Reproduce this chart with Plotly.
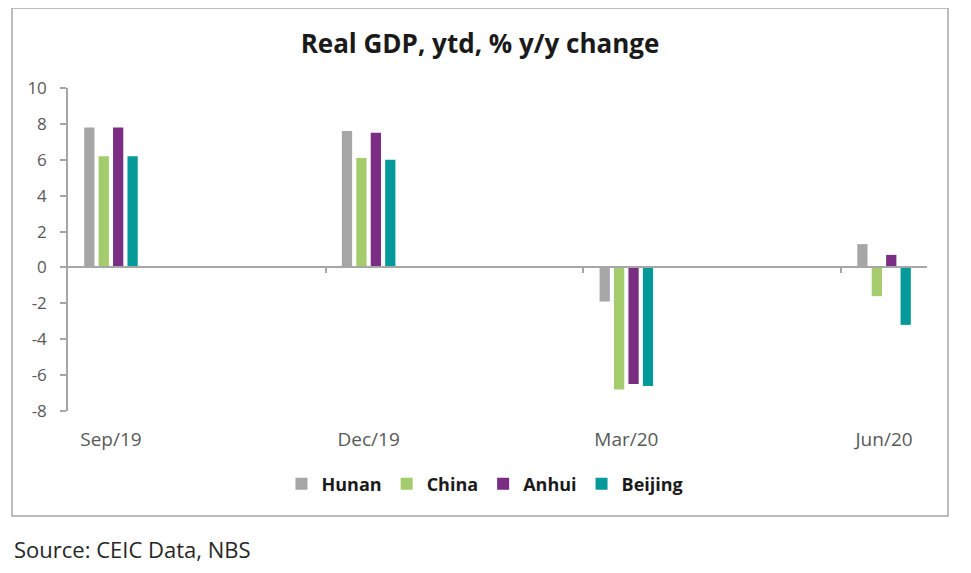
import plotly.graph_objects as go
import pandas as pd

# ---- data ----
categories = ["Sep/19", "Dec/19", "Mar/20", "Jun/20"]
dates = ["2019-09", "2019-12", "2020-03", "2020-06"]
hunan = [7.8, 7.6, -1.9, 1.3]
china = [6.2, 6.1, -6.8, -1.6]
anhui = [7.8, 7.5, -6.5, 0.7]
beijing = [6.2, 6.0, -6.6, -3.2]
y_ticks = [-8, -6, -4, -2, 0, 2, 4, 6, 8, 10]
y_tick_labels = [str(v) for v in y_ticks]

# month index positions (date axis, one unit per month)
periods = [pd.Period(d, freq="M") for d in dates]
xpos = [(p - periods[0]).n for p in periods]
x_range = [xpos[0] - 0.5, xpos[-1] + 0.5]
boundaries = [x - 0.5 for x in xpos[1:]]

series = [
    ("Hunan", hunan, "#A6A6A6"),
    ("China", china, "#A4CB6C"),
    ("Anhui", anhui, "#7B2C83"),
    ("Beijing", beijing, "#06999A"),
]

FONT = "'Open Sans', Lato, sans-serif"
GRAY = "#A6A6A6"

fig = go.Figure()
for name, vals, col in series:
    fig.add_trace(go.Bar(
        x=xpos, y=vals, name=name,
        marker=dict(color=col, line=dict(width=0)),
        xaxis="x", yaxis="y",
    ))

# invisible trace on xaxis2 so the overlay axis renders
fig.add_trace(go.Scatter(x=[x_range[0]], y=[0], mode="markers",
                         marker=dict(opacity=0), showlegend=False,
                         hoverinfo="skip", xaxis="x2", yaxis="y"))

ymin, ymax = y_ticks[0], y_ticks[-1]
zero_pos = (0 - ymin) / (ymax - ymin)

OFF = 8  # page body margin
W, H = 971 - OFF, 573 - OFF
L, T = 68 - OFF, 88 - OFF
R = W - (927 - OFF)
B = H - (411 - OFF)
pw, ph = W - L - R, H - T - B

def px_x(px):
    return (px - OFF - L) / pw

def px_y(py):
    return (H - B - (py - OFF)) / ph

fig.update_layout(
    width=W, height=H,
    margin=dict(l=L, r=R, t=T, b=B),
    paper_bgcolor="white", plot_bgcolor="white",
    barmode="group", bargap=0.776, bargroupgap=0.29,
    font=dict(family=FONT, color="#595959", size=14),
    title=dict(text="<b>Real GDP, ytd, % y/y change</b>",
               x=(480 - OFF) / W, xref="container", xanchor="center",
               y=1 - (44 - OFF) / H, yref="container", yanchor="middle",
               font=dict(family=FONT, size=26, color="#1a1a1a")),
    xaxis=dict(range=x_range, tickvals=xpos, ticktext=categories,
               showgrid=False, zeroline=False, showline=False,
               ticks="outside", ticklen=11, tickcolor="rgba(0,0,0,0)",
               tickfont=dict(size=19, color="#595959")),
    xaxis2=dict(range=x_range, overlaying="x", anchor="free",
                position=zero_pos, side="bottom",
                tickvals=boundaries, showticklabels=False,
                ticks="outside", ticklen=5, tickcolor=GRAY, tickwidth=1.5,
                showline=True, linecolor=GRAY, linewidth=1.5,
                showgrid=False, zeroline=False),
    yaxis=dict(range=[ymin, ymax], tickvals=y_ticks, ticktext=y_tick_labels,
               showgrid=False, zeroline=False,
               showline=True, linecolor=GRAY, linewidth=1.5,
               ticks="outside", ticklen=6, tickcolor=GRAY, tickwidth=1.5,
               ticklabelstandoff=10,
               tickfont=dict(size=17, color="#595959")),
    legend=dict(orientation="h", x=px_x(485), xanchor="center",
                y=px_y(484), yanchor="middle",
                font=dict(family=FONT, size=18, color="#1a1a1a", weight="bold"),
                itemwidth=30, tracegroupgap=0, bgcolor="rgba(0,0,0,0)"),
    showlegend=True,
)

# chart border
fig.add_shape(type="rect", xref="paper", yref="paper",
              x0=px_x(12), x1=px_x(948), y0=px_y(516), y1=px_y(8),
              line=dict(color=GRAY, width=1.5), fillcolor="rgba(0,0,0,0)",
              layer="below")

fig.add_annotation(text="Source: CEIC Data, NBS", xref="paper", yref="paper",
                   x=px_x(12), y=px_y(549), xanchor="left", yanchor="middle",
                   showarrow=False,
                   font=dict(family=FONT, size=22, color="#262626"))

fig.write_html("out.html")
